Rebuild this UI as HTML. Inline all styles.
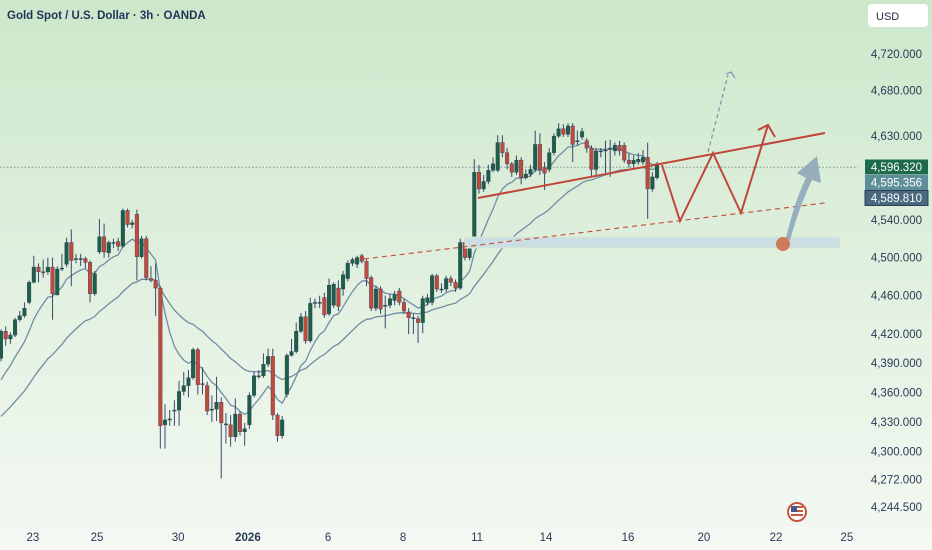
<!DOCTYPE html>
<html><head><meta charset="utf-8"><style>
html,body{margin:0;padding:0;width:932px;height:550px;overflow:hidden;font-family:"Liberation Sans",sans-serif}
svg{display:block}
</style></head><body>
<svg id="chart" width="932" height="550" viewBox="0 0 932 550" xmlns="http://www.w3.org/2000/svg">
<defs>
<linearGradient id="bg" x1="0" y1="0" x2="0" y2="1">
<stop offset="0" stop-color="#cde7cb"/><stop offset="1" stop-color="#f4f9f3"/>
</linearGradient>
<clipPath id="plot"><rect x="0" y="0" width="858" height="550"/></clipPath>
</defs>
<rect x="0" y="0" width="932" height="550" fill="url(#bg)"/>
<text x="7" y="19" font-size="11.5" font-weight="bold" fill="#1f3558">Gold Spot / U.S. Dollar · 3h · OANDA</text>
<g>
<rect x="868" y="4" width="60" height="23" rx="4" fill="#ffffff"/>
<text x="876" y="20" font-size="11" fill="#1f2a40">USD</text>
</g>
<g id="plotg" clip-path="url(#plot)"></g>
<g id="drawings" clip-path="url(#plot)"></g>
<g id="yaxis"></g>
<g id="xaxis"></g>
<g>
<circle cx="797" cy="512" r="9" fill="#fff" stroke="#c8553d" stroke-width="2"/>
<rect x="791" y="506" width="12" height="2" fill="#c8553d"/><rect x="791" y="510" width="12" height="2" fill="#c8553d"/><rect x="791" y="514" width="12" height="2" fill="#c8553d"/>
<rect x="791" y="506" width="6" height="6" fill="#3d5a8a"/>
</g>
</svg>
<script>
// ---- data ----
const opens=[4395,4423,4415,4419,4435,4439,4453,4474,4490,4485,4485,4490,4461,4488,4493,4516,4498,4499,4499,4495,4462,4506,4522,4505,4516,4517,4512,4550,4535,4546,4501,4520,4478,4476,4468,4327,4332,4342,4342,4361,4367,4375,4404,4369,4367,4343,4343,4350,4328,4327,4315,4338,4320,4327,4357,4377,4377,4389,4397,4337,4316,4358,4398,4402,4423,4438,4413,4452,4453,4458,4441,4450,4468,4467,4478,4494,4493,4502,4496,4479,4447,4467,4450,4450,4455,4465,4453,4443,4437,4436,4432,4453,4453,4481,4467,4467,4478,4474,4468,4516,4500,4512,4591,4573,4581,4593,4593,4623,4612,4600,4591,4604,4585,4589,4594,4621,4596,4594,4612,4630,4638,4632,4641,4625,4629,4625,4617,4594,4614,4614,4617,4614,4620,4620,4604,4600,4602,4602,4607,4573,4585];
const closes=[4423,4415,4419,4435,4439,4447,4474,4490,4485,4484,4490,4462,4488,4489,4516,4497,4499,4499,4495,4462,4483,4522,4506,4516,4516,4512,4550,4535,4537,4501,4520,4479,4476,4468,4326,4332,4333,4342,4361,4367,4375,4404,4368,4368,4341,4343,4350,4329,4328,4315,4338,4320,4323,4357,4377,4377,4389,4397,4337,4316,4332,4398,4402,4423,4438,4413,4452,4453,4453,4440,4471,4472,4449,4482,4494,4498,4500,4496,4478,4447,4467,4446,4450,4457,4461,4453,4444,4437,4437,4432,4457,4458,4481,4467,4467,4478,4474,4468,4516,4500,4514,4591,4573,4581,4593,4600,4623,4612,4600,4591,4604,4585,4589,4594,4621,4594,4590,4612,4630,4638,4632,4641,4621,4625,4635,4617,4594,4614,4614,4615,4617,4620,4614,4604,4600,4604,4605,4607,4573,4586,4600];
const highs=[4425,4428,4422,4437,4444,4453,4476,4502,4494,4498,4500,4500,4491,4504,4521,4530,4504,4504,4501,4497,4486,4541,4536,4518,4520,4521,4552,4552,4540,4551,4523,4523,4491,4494,4470,4348,4342,4352,4372,4381,4383,4406,4406,4386,4371,4357,4376,4355,4339,4337,4354,4341,4329,4360,4381,4383,4400,4405,4405,4339,4336,4400,4415,4432,4442,4444,4458,4457,4460,4463,4478,4474,4476,4486,4497,4500,4502,4504,4498,4481,4470,4470,4460,4462,4465,4468,4457,4447,4441,4439,4460,4462,4483,4483,4473,4481,4481,4477,4520,4520,4518,4605,4599,4588,4599,4607,4631,4631,4617,4602,4609,4607,4594,4599,4636,4633,4602,4617,4633,4644,4643,4644,4644,4636,4639,4628,4620,4617,4617,4625,4626,4623,4625,4623,4612,4609,4612,4615,4623,4591,4602];
const lows=[4392,4408,4410,4417,4433,4437,4451,4473,4474,4479,4482,4435,4460,4486,4490,4470,4494,4491,4489,4453,4460,4504,4500,4500,4510,4507,4510,4532,4531,4476,4499,4476,4474,4439,4303,4303,4326,4326,4326,4357,4355,4373,4358,4358,4337,4330,4331,4273,4308,4305,4310,4316,4306,4323,4355,4374,4375,4386,4332,4310,4313,4355,4397,4400,4421,4410,4411,4447,4447,4437,4439,4447,4444,4460,4475,4491,4489,4494,4470,4444,4444,4441,4426,4447,4450,4450,4441,4420,4420,4411,4421,4450,4450,4464,4463,4464,4470,4464,4466,4497,4497,4510,4568,4570,4578,4591,4591,4607,4594,4586,4588,4578,4583,4586,4591,4588,4572,4591,4609,4628,4629,4629,4602,4620,4626,4612,4586,4586,4607,4590,4586,4609,4609,4601,4596,4596,4599,4599,4541,4570,4583];
const priceTicks=[4720,4680,4630,4540,4500,4460,4420,4390,4360,4330,4300,4272,4244.5];
const dateLabels=["23","25","30","2026","6","8","11","14","16","20","22","25"];
const dateIndex=[6.8,20.5,37.8,52.7,69.8,85.8,101.6,116.3,133.8,150,165.4,180.5];
const lastPrice=4596.320, maFastLast=4595.356, maSlowLast=4589.810;
const emaFastSeed=4362, emaSlowSeed=4330, fastPeriod=10, slowPeriod=32;
// ---- scales ----
const NS="http://www.w3.org/2000/svg";
function yOf(p){return 54+4266*Math.log(4720/p);}
function xOf(i){return 1+i*4.686;}
function mk(tag,attrs,parent){const e=document.createElementNS(NS,tag);for(const k in attrs)e.setAttribute(k,attrs[k]);parent.appendChild(e);return e;}
const plot=document.getElementById('plotg');
const pl=mk('line',{x1:0,x2:858,y1:yOf(lastPrice),y2:yOf(lastPrice),stroke:'#7f9696','stroke-width':1,'stroke-dasharray':'1.5 2'},plot);


function ema(seed,n){const k=2/(n+1);let v=seed;return closes.map(c=>{v=v+k*(c-v);return v;});}
[[ema(emaSlowSeed,slowPeriod),'ma-slow-line'],[ema(emaFastSeed,fastPeriod),'ma-fast-line']].forEach(([arr,nm])=>{
  const d=arr.map((v,i)=>(i?'L':'M')+xOf(i).toFixed(1)+' '+yOf(v).toFixed(1)).join(' ');
  const p=mk('path',{d:d,fill:'none',stroke:'#6f8ea3','stroke-width':1.3},plot);
  
  
});
closes.forEach((c,i)=>{
  const o=opens[i],x=xOf(i),up=c>=o;
  const g=mk('g',{},plot);
  
  
  mk('line',{x1:x,x2:x,y1:yOf(highs[i]),y2:yOf(lows[i]),stroke:'#3a4868','stroke-width':1},g);
  const t=yOf(Math.max(o,c)),b=yOf(Math.min(o,c));
  mk('rect',{x:x-1.8,y:t,width:3.6,height:Math.max(1,b-t),fill:up?'#1d5e46':'#c4493b',stroke:'#34405e','stroke-width':0.4},g);
});
const dr=document.getElementById('drawings');
function named(e,n,i){return e;}
named(mk('rect',{x:465,y:237,width:375,height:11,fill:'#c9dfe4',stroke:'#dbeacb','stroke-width':1},dr),'support-zone','true');
named(mk('line',{x1:364,y1:259,x2:825,y2:203,stroke:'#c8553d','stroke-width':1.2,'stroke-dasharray':'5 4'},dr),'lower-dashed-trendline','true');
named(mk('line',{x1:478,y1:198,x2:825,y2:133,stroke:'#c0453a','stroke-width':2},dr),'upper-trendline','true');
named(mk('polyline',{points:'662,165 680,221 713,153 741,213 768,125',fill:'none',stroke:'#c0453a','stroke-width':2},dr),'zigzag-projection','true');
named(mk('polyline',{points:'758,130 768,125 775,137',fill:'none',stroke:'#c0453a','stroke-width':2},dr),'zigzag-arrowhead','false');
named(mk('line',{x1:708,y1:152,x2:728,y2:75,stroke:'#7892ac','stroke-width':1.2,'stroke-dasharray':'4 3'},dr),'breakout-dashed-arrow','true');
named(mk('polyline',{points:'726,74 731,72 735,78',fill:'none',stroke:'#7892ac','stroke-width':1.2},dr),'breakout-arrowhead','false');
named(mk('path',{d:'M786,238 Q795,200 806,178 L797,173 L817,156 L821,183 L812,180 Q800,205 790,240 Z',fill:'#8ea6b9',opacity:0.9},dr),'bullish-arrow','true');
named(mk('circle',{cx:783,cy:244,r:7,fill:'#d07a5c'},dr),'entry-point-marker','true');
const ya=document.getElementById('yaxis');
priceTicks.forEach(p=>{
  const t=mk('text',{x:922,y:yOf(p)+4,'font-size':11.5,fill:'#2a3a55','text-anchor':'end'},ya);
  t.textContent=p.toLocaleString('en-US',{minimumFractionDigits:3,maximumFractionDigits:3});
  
  
});
[[lastPrice,'#1d6a4c','last-price-badge',0],[maFastLast,'#5e8e99','ma-fast-badge',0],[maSlowLast,'#4a687e','ma-slow-badge',1]].forEach(([v,col,nm,bd],k)=>{
  const g=mk('g',{},ya);
  
  
  const yc=160+k*15.5+7;
  mk('rect',{x:865,y:yc-7.5,width:63,height:15,fill:col,stroke:bd?'#2e4058':'none','stroke-width':1},g);
  const t=mk('text',{x:922,y:yc+4,'font-size':11.5,fill:'#ffffff','text-anchor':'end'},g);
  t.textContent=v.toLocaleString('en-US',{minimumFractionDigits:3});
});
const xa=document.getElementById('xaxis');
dateLabels.forEach((s,k)=>{
  const t=mk('text',{x:xOf(dateIndex[k]),y:541,'font-size':11.5,fill:'#2a3a55','text-anchor':'middle','font-weight':s==='2026'?'bold':'normal'},xa);
  t.textContent=s;
  
  
});
</script>
</body></html>
